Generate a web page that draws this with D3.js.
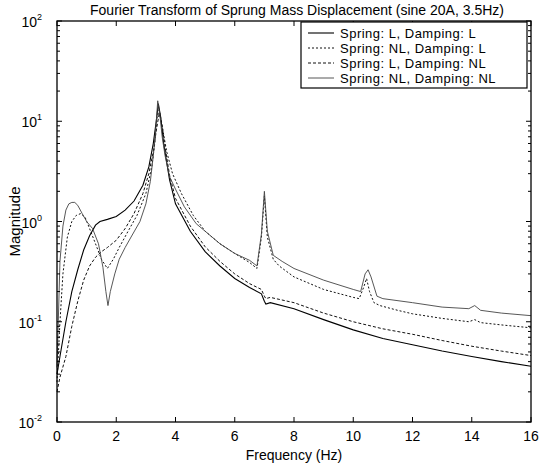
<!DOCTYPE html>
<html>
<head>
<meta charset="utf-8">
<script src="https://cdn.jsdelivr.net/npm/d3@7"></script>
<style>
  body { margin: 0; background: #fff; }
  text { font-family: "Liberation Sans", Arial, sans-serif; fill: #000; }
</style>
</head>
<body>
<script>
const w = 543;
const h = 465;
const margin = { left: 57, right: 12, top: 21, bottom: 43 };

// Spring: L, Damping: L
const freqLL = [0, 0.1, 0.3, 0.5, 0.7, 0.9, 1.1, 1.3, 1.45, 1.7, 2.0, 2.3, 2.6, 2.9, 3.1, 3.25, 3.35, 3.42, 3.5, 3.6, 3.8, 4.0, 4.5, 5.0, 5.5, 6.0, 6.5, 6.9, 7.0, 7.05, 7.2, 8, 9, 10, 11, 12, 13, 14, 15, 16];
const magLL = [0.03, 0.045, 0.1, 0.2, 0.33, 0.52, 0.72, 0.92, 1.0, 1.05, 1.12, 1.3, 1.6, 2.3, 3.5, 6, 10, 15, 11, 6, 2.6, 1.5, 0.8, 0.5, 0.36, 0.27, 0.22, 0.19, 0.16, 0.15, 0.155, 0.135, 0.105, 0.083, 0.068, 0.059, 0.051, 0.045, 0.04, 0.036];

// Spring: NL, Damping: L
const freqNLL = [0, 0.1, 0.2, 0.35, 0.5, 0.65, 0.8, 0.95, 1.1, 1.3, 1.5, 1.7, 1.9, 2.1, 2.4, 2.7, 3.0, 3.2, 3.3, 3.38, 3.45, 3.55, 3.7, 3.9, 4.2, 4.6, 5.0, 5.5, 6.0, 6.5, 6.75, 6.9, 7.0, 7.1, 7.3, 7.5, 8, 9, 10, 10.2, 10.35, 10.45, 10.55, 10.7, 10.9, 11.5, 12, 13, 13.9, 14.1, 14.3, 15, 16];
const magNLL = [0.025, 0.1, 0.3, 0.7, 1.0, 1.15, 1.2, 1.1, 0.85, 0.6, 0.42, 0.34, 0.42, 0.55, 0.8, 1.15, 1.9, 3.5, 6, 11, 13, 9, 5, 3.0, 1.9, 1.15, 0.8, 0.6, 0.48, 0.39, 0.34, 0.7, 1.8, 0.7, 0.42, 0.36, 0.28, 0.21, 0.175, 0.17, 0.22, 0.27, 0.2, 0.155, 0.145, 0.13, 0.12, 0.108, 0.1, 0.105, 0.098, 0.093, 0.087];

// Spring: L, Damping: NL
const freqLNL = [0, 0.1, 0.3, 0.5, 0.7, 0.9, 1.1, 1.3, 1.5, 1.7, 2.0, 2.3, 2.6, 2.9, 3.1, 3.25, 3.35, 3.45, 3.55, 3.65, 3.8, 4.0, 4.5, 5.0, 5.5, 6.0, 6.5, 6.9, 7.0, 7.05, 7.2, 8, 9, 10, 11, 12, 13, 14, 15, 16];
const magLNL = [0.02, 0.028, 0.045, 0.09, 0.16, 0.26, 0.36, 0.44, 0.5, 0.55, 0.65, 0.85, 1.2, 1.9, 3.0, 5, 8, 12, 9, 5.5, 2.9, 1.7, 0.9, 0.56, 0.4, 0.3, 0.24, 0.21, 0.18, 0.17, 0.175, 0.155, 0.122, 0.1, 0.085, 0.075, 0.065, 0.057, 0.051, 0.046];

// Spring: NL, Damping: NL
const freqNLNL = [0, 0.1, 0.2, 0.3, 0.4, 0.5, 0.6, 0.7, 0.85, 1.0, 1.2, 1.4, 1.55, 1.65, 1.72, 1.8, 1.95, 2.1, 2.3, 2.5, 2.8, 3.0, 3.15, 3.25, 3.33, 3.4, 3.48, 3.55, 3.65, 3.8, 4.0, 4.3, 4.7, 5.0, 5.5, 6.0, 6.5, 6.75, 6.9, 7.0, 7.1, 7.3, 7.6, 8, 9, 10, 10.25, 10.4, 10.5, 10.6, 10.8, 11, 12, 13, 13.9, 14.1, 14.3, 15, 16];
const magNLNL = [0.035, 0.4, 0.9, 1.3, 1.5, 1.55, 1.55, 1.45, 1.2, 1.0, 0.85, 0.6, 0.35, 0.2, 0.145, 0.2, 0.3, 0.42, 0.55, 0.7, 1.0, 1.5, 2.5, 4.5, 8, 16, 11, 7, 4.5, 2.8, 2.1, 1.4, 0.95, 0.8, 0.6, 0.48, 0.41, 0.36, 0.75, 2.0, 0.8, 0.46, 0.4, 0.34, 0.26, 0.21, 0.2, 0.3, 0.33, 0.28, 0.18, 0.17, 0.155, 0.14, 0.135, 0.145, 0.13, 0.122, 0.115];

const legendLabels = ["Spring: L, Damping: L", "Spring: NL, Damping: L", "Spring: L, Damping: NL", "Spring: NL, Damping: NL"];
const xTicks = [0, 2, 4, 6, 8, 10, 12, 14, 16];
const yExponents = [-2, -1, 0, 1, 2];

const series = [
  { label: legendLabels[0], f: freqLL, m: magLL, color: "#000", dash: null, width: 1.1 },
  { label: legendLabels[1], f: freqNLL, m: magNLL, color: "#111", dash: "2,2", width: 1 },
  { label: legendLabels[2], f: freqLNL, m: magLNL, color: "#111", dash: "3,2", width: 1 },
  { label: legendLabels[3], f: freqNLNL, m: magNLNL, color: "#444", dash: null, width: 0.9 },
];

const svg = d3.select("body").append("svg").attr("width", w).attr("height", h);

const x = d3.scaleLinear().domain([0, 16]).range([margin.left, w - margin.right]);
const y = d3.scaleLog().domain([1e-2, 1e2]).range([h - margin.bottom, margin.top]);

const x0 = margin.left, x1 = w - margin.right, y0 = h - margin.bottom, y1 = margin.top;

// curves
const line = d3.line().x((d) => x(d[0])).y((d) => y(d[1]));
series.forEach((s) => {
  svg.append("path")
    .datum(s.f.map((f, i) => [f, s.m[i]]))
    .attr("d", line)
    .attr("fill", "none")
    .attr("stroke", s.color)
    .attr("stroke-width", s.width)
    .attr("stroke-dasharray", s.dash);
});

// ticks inside, MATLAB style
const tickLen = 5;
const minorLen = 3;
const ticks = svg.append("g").attr("stroke", "#000").attr("stroke-width", 1);
xTicks.forEach((t) => {
  ticks.append("line").attr("x1", x(t)).attr("x2", x(t)).attr("y1", y0).attr("y2", y0 - tickLen);
  ticks.append("line").attr("x1", x(t)).attr("x2", x(t)).attr("y1", y1).attr("y2", y1 + tickLen);
});
y.ticks().forEach((t) => {
  const major = Math.abs(Math.log10(t) - Math.round(Math.log10(t))) < 1e-9;
  const len = major ? tickLen : minorLen;
  ticks.append("line").attr("x1", x0).attr("x2", x0 + len).attr("y1", y(t)).attr("y2", y(t));
  ticks.append("line").attr("x1", x1).attr("x2", x1 - len).attr("y1", y(t)).attr("y2", y(t));
});

// frame
svg.append("rect")
  .attr("x", x0).attr("y", y1)
  .attr("width", x1 - x0).attr("height", y0 - y1)
  .attr("fill", "none").attr("stroke", "#000").attr("stroke-width", 1.3);

// x tick labels
svg.append("g").selectAll("text").data(xTicks).join("text")
  .attr("x", (d) => x(d)).attr("y", y0 + 19)
  .attr("text-anchor", "middle").attr("font-size", 14)
  .text((d) => d);

// y tick labels 10^n
const yl = svg.append("g").selectAll("text").data(yExponents).join("text")
  .attr("x", x0 - 15).attr("y", (d) => y(Math.pow(10, d)) + 6)
  .attr("text-anchor", "end").attr("font-size", 14);
yl.append("tspan").text("10");
yl.append("tspan").attr("dy", -7).attr("font-size", 9).text((d) => d);

// axis titles
svg.append("text").attr("x", (x0 + x1) / 2).attr("y", h - 5)
  .attr("text-anchor", "middle").attr("font-size", 14).text("Frequency (Hz)");
svg.append("text")
  .attr("transform", `translate(20, ${(y0 + y1) / 2}) rotate(-90)`)
  .attr("text-anchor", "middle").attr("font-size", 15).text("Magnitude");
svg.append("text").attr("x", (x0 + x1) / 2 + 3).attr("y", 15)
  .attr("text-anchor", "middle").attr("font-size", 14)
  .text("Fourier Transform of Sprung Mass Displacement (sine 20A, 3.5Hz)");

// legend
const legend = svg.append("g").attr("transform", `translate(301, ${y1 + 1})`);
legend.append("rect").attr("width", 226).attr("height", 66)
  .attr("fill", "#fff").attr("stroke", "#000").attr("stroke-width", 1.2);
series.forEach((s, i) => {
  const ly = 11 + i * 15;
  legend.append("line").attr("x1", 7).attr("x2", 33).attr("y1", ly).attr("y2", ly)
    .attr("stroke", s.color).attr("stroke-width", s.width).attr("stroke-dasharray", s.dash);
  legend.append("text").attr("x", 39).attr("y", ly + 4.5)
    .attr("font-size", 13).attr("letter-spacing", 0.5).text(s.label);
});
</script>
</body>
</html>
